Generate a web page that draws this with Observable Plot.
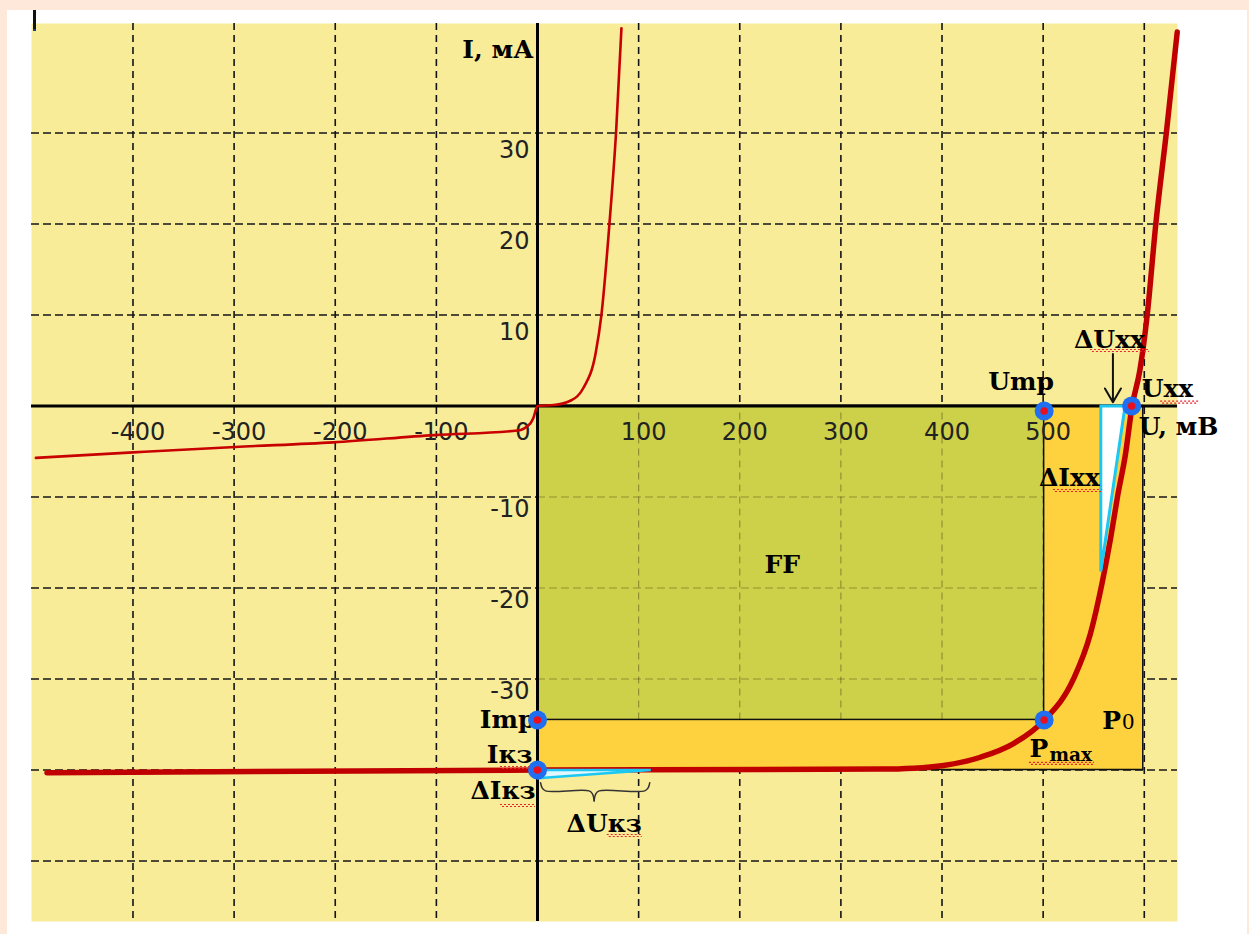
<!DOCTYPE html>
<html><head><meta charset="utf-8">
<script src="https://cdn.jsdelivr.net/npm/d3@7"></script>
<script src="https://cdn.jsdelivr.net/npm/@observablehq/plot@0.6"></script>
<style>
html,body{margin:0;padding:0;background:#fde8da;overflow:hidden;}
#panel{position:absolute;left:7px;top:10px;width:1240px;height:924px;background:#fff;}
#chart{position:absolute;left:0;top:0;}
#cursor{position:absolute;left:33px;top:10px;width:3px;height:21px;background:#111;border-bottom:2px solid #1a3a9a;box-sizing:border-box;}
</style></head><body>
<div id="panel"></div>
<div id="chart"></div>
<div id="cursor"></div>
<script>
// ---- data ----
const gridU = [-400, -300, -200, -100, 100, 200, 300, 400, 500, 600];
const gridI = [30, 20, 10, -10, -20, -30, -40, -50];
const tickU = [-400, -300, -200, -100, 100, 200, 300, 400, 500];
const tickI = [30, 20, 10, -10, -20, -30];

// dark (thin) I-V curve, U in mV, I in mA
const darkU = [-496, -400, -299, -202, -102, -20, -7, -4, 0, 16, 33, 45.5, 57.4, 63.3, 71.2, 77.8, 83];
const darkI = [-5.7, -5.1, -4.5, -4.0, -3.2, -2.7, -1.9, -1.3, 0, 0.1, 0.6, 2.0, 5.75, 10.1, 20.1, 30.3, 41.5];

// illuminated (thick) I-V curve
const lightU = [-485, 0, 339, 372, 401.5, 438, 470.7, 500.4, 530, 546.8, 558.4, 566.6, 573.8, 581.4, 588, 595.6, 602.9, 611.4, 622, 632.6];
const lightI = [-40.3, -40, -39.9, -39.8, -39.5, -38.6, -37.1, -34.6, -30, -25, -19.4, -14.6, -9.8, -5.3, 0, 3.9, 10, 20, 30.2, 41.1];

// key values
const Ump = 501, Imp = -34.5, Uxx = 587.5, Isc = -40, P0U = 599;
const dUxx = [557, 581], dIxx = -18.2;   // open-circuit tangent triangle
const dUkz = 112, dIkz = -0.9;           // short-circuit tangent wedge
const arrowI = [5.7, 0.4];

// ---- derived tables ----
const dark = darkU.map((u, k) => ({u, i: darkI[k]}));
const light = lightU.map((u, k) => ({u, i: lightI[k]}));
const triXX = [{u: dUxx[0], i: 0}, {u: dUxx[1], i: 0}, {u: dUxx[0], i: dIxx}, {u: dUxx[0], i: 0}];
const triKZ = [{u: 0, i: Isc}, {u: dUkz, i: Isc}, {u: 0, i: Isc + dIkz}, {u: 0, i: Isc}];
const bx0 = 3, bx1 = dUkz - 1, bm = (bx0 + bx1) / 2 - 1;
const be = Isc - 1.4, bb = Isc - 2.3, bt = Isc - 3.4;
const braceHalf = (s, x0, m) => [
  {u: x0, i: be, s}, {u: x0 + s * 1.5, i: bb + 0.35, s}, {u: x0 + s * 5, i: bb, s},
  {u: m - s * 5, i: bb, s}, {u: m - s * 1.5, i: bb - 0.35, s}, {u: m, i: bt, s}
];
const brace = [...braceHalf(1, bx0, bm), ...braceHalf(-1, bx1, bm)];
const keyPts = [{u: Uxx, i: 0}, {u: 0, i: Imp}, {u: 0, i: Isc}, {u: Ump, i: Imp}];
const arrowU = (dUxx[0] + dUxx[1]) / 2;

const YELLOW = "#f8ec98", GREEN = "#cdd049", ORANGE = "#fdd23e", RED = "#c00000";
const CYAN = "#1cc7f2", BLUE = "#1f6ff0", DOTRED = "#e8101e", SQ = "#e8262a";
const SERIF = "DejaVu Serif", SANS = "DejaVu Sans";
const lab = {fontFamily: SERIF, fontWeight: "bold", fontSize: 25, fill: "#000", lineAnchor: "bottom"};
const tk = {fontFamily: SANS, fontSize: 24, fill: "#222"};

// red spell-check squiggle under a label (two offset dashed rules)
const squig = (x, y, l, r, dy) => [
  Plot.ruleY([y], {x1: x, x2: x, insetLeft: -l, insetRight: -r, dy: dy - 1, stroke: SQ, strokeWidth: 1.2, strokeDasharray: "2,2"}),
  Plot.ruleY([y], {x1: x, x2: x, insetLeft: -l, insetRight: -r, dy: dy + 1, stroke: SQ, strokeWidth: 1.2, strokeDasharray: "2,2", strokeDashoffset: 2})
];

const chart = Plot.plot({
  width: 1249, height: 934,
  marginLeft: 31, marginRight: 72, marginTop: 23, marginBottom: 13,
  style: {background: "transparent", overflow: "visible"},
  x: {domain: [-500.35, 632.85], axis: null},
  y: {domain: [-56.65, 42.03], axis: null},
  marks: [
    Plot.frame({fill: YELLOW, stroke: "none"}),
    // dashed grid
    Plot.ruleX(gridU, {stroke: "#141414", strokeWidth: 1.6, strokeDasharray: "7,5"}),
    Plot.ruleY(gridI, {stroke: "#141414", strokeWidth: 1.6, strokeDasharray: "8,4"}),
    // P0 box and FF box
    Plot.rect([{x1: 0, x2: P0U, y1: Isc, y2: 0}], {x1: "x1", x2: "x2", y1: "y1", y2: "y2", fill: ORANGE, stroke: "#111", strokeWidth: 1.5}),
    Plot.rect([{x1: 0, x2: Ump, y1: Imp, y2: 0}], {x1: "x1", x2: "x2", y1: "y1", y2: "y2", fill: GREEN, stroke: "#111", strokeWidth: 1.5}),
    // faint grid seen through the FF box
    Plot.ruleX(gridU.filter(u => u > 0 && u < Ump), {x: d => d, y1: Imp, y2: 0, stroke: "#000", strokeOpacity: 0.3, strokeWidth: 1.2, strokeDasharray: "7,5"}),
    Plot.ruleY(gridI.filter(i => i < 0 && i > Imp), {y: d => d, x1: 0, x2: Ump, stroke: "#000", strokeOpacity: 0.3, strokeWidth: 1.2, strokeDasharray: "8,4"}),
    // axes
    Plot.ruleY([0], {stroke: "#000", strokeWidth: 3}),
    Plot.ruleX([0], {stroke: "#000", strokeWidth: 3}),
    // tick labels
    Plot.text(tickU, {x: d => d, y: 0, text: d => String(d), dx: 5, dy: 34, lineAnchor: "bottom", ...tk}),
    Plot.text([0], {x: 0, y: 0, text: d => String(d), textAnchor: "end", dx: -7, dy: 34, lineAnchor: "bottom", ...tk}),
    Plot.text(tickI.filter(v => v > 0), {x: 0, y: d => d, text: d => String(d), textAnchor: "end", dx: -8, dy: 17, lineAnchor: "middle", ...tk}),
    Plot.text(tickI.filter(v => v < 0), {x: 0, y: d => d, text: d => String(d), textAnchor: "end", dx: -8, dy: 12, lineAnchor: "middle", ...tk}),
    // curves
    Plot.line(dark, {x: "u", y: "i", stroke: "#c80000", strokeWidth: 2.6, curve: "monotone-x"}),
    Plot.line(light, {x: "u", y: "i", stroke: RED, strokeWidth: 5.5, curve: "monotone-x"}),
    // tangent triangles
    Plot.line(triXX, {x: "u", y: "i", fill: "#fff", stroke: CYAN, strokeWidth: 3, strokeLinejoin: "miter"}),
    Plot.line(triKZ, {x: "u", y: "i", fill: "#dff7fd", stroke: CYAN, strokeWidth: 2.5, strokeLinejoin: "miter"}),
    // brace and arrow
    Plot.line(brace, {x: "u", y: "i", z: "s", stroke: "#333", strokeWidth: 1.5, curve: "catmull-rom"}),
    Plot.arrow([0], {x1: arrowU, x2: arrowU, y1: arrowI[0], y2: arrowI[1], stroke: "#111", strokeWidth: 2, headLength: 12, headAngle: 60}),
    // labels
    Plot.text(["I, мА"], {x: 0, y: 42.03, text: d => d, textAnchor: "end", dx: -4, dy: 34, ...lab}),
    Plot.text(["U, мВ"], {x: Uxx, y: 0, text: d => d, textAnchor: "start", dx: 7, dy: 29.5, ...lab}),
    Plot.text(["Uxx"], {x: Uxx, y: 0, text: d => d, textAnchor: "start", dx: 10, dy: -8.5, ...lab}),
    Plot.text(["Ump"], {x: Ump, y: 0, text: d => d, textAnchor: "middle", dx: -23, dy: -16, ...lab}),
    Plot.text(["ΔUxx"], {x: arrowU, y: 0, text: d => d, textAnchor: "middle", dx: -3.5, dy: -57.5, ...lab}),
    Plot.text(["ΔIxx"], {x: dUxx[0], y: 0, text: d => d, textAnchor: "end", dx: -1, dy: 80.5, ...lab}),
    Plot.text(["FF"], {x: Ump / 2, y: Imp / 2, text: d => d, textAnchor: "middle", dx: -8.5, dy: 10.5, ...lab}),
    Plot.text(["Imp"], {x: 0, y: Imp, text: d => d, textAnchor: "end", dx: -2, dy: 8.5, ...lab}),
    Plot.text(["Iкз"], {x: 0, y: Isc, text: d => d, textAnchor: "end", dx: -5, dy: -6.5, ...lab}),
    Plot.text(["ΔIкз"], {x: 0, y: Isc, text: d => d, textAnchor: "end", dx: -2, dy: 29, ...lab}),
    Plot.text(["ΔUкз"], {x: bm, y: Isc, text: d => d, textAnchor: "middle", dx: 10, dy: 62, ...lab}),
    Plot.text(["P"], {x: Ump, y: Imp, text: d => d, textAnchor: "start", dx: -14.7, dy: 37.5, ...lab}),
    Plot.text(["max"], {x: Ump, y: Imp, text: d => d, textAnchor: "start", dx: 5.3, dy: 41.5, ...lab, fontSize: 18.5}),
    Plot.text(["P"], {x: P0U, y: Imp, text: d => d, textAnchor: "start", dx: -41, dy: 9, ...lab}),
    Plot.text(["0"], {x: P0U, y: Imp, text: d => d, textAnchor: "start", dx: -21, dy: 9.5, ...lab, fontFamily: "Liberation Serif", fontWeight: "normal", fontSize: 24}),
    // spell-check squiggles
    ...squig(arrowU, 0, 22.5, 36.5, -55.5),
    ...squig(Uxx, 0, -29, 67, -3.8),
    ...squig(dUxx[0], 0, 47.3, 1.4, 84.5),
    ...squig(0, Isc, 37, -5.3, -2.5),
    ...squig(0, Isc, 37, -2, 35.5),
    ...squig(bm, Isc, -13.1, 48.1, 65.5),
    ...squig(Ump, Imp, 14.7, 50.3, 43.5),
    // key points
    Plot.dot(keyPts, {x: "u", y: "i", r: 9.5, fill: BLUE, stroke: "none"}),
    Plot.dot(keyPts, {x: "u", y: "i", r: 3.8, fill: DOTRED, stroke: "none"}),
    Plot.dot([{u: Ump, i: 0}], {x: "u", y: "i", r: 9.5, fill: BLUE, stroke: "none", dy: 5}),
    Plot.dot([{u: Ump, i: 0}], {x: "u", y: "i", r: 3.8, fill: DOTRED, stroke: "none", dy: 5})
  ]
});
document.getElementById("chart").appendChild(chart);
</script></body></html>
